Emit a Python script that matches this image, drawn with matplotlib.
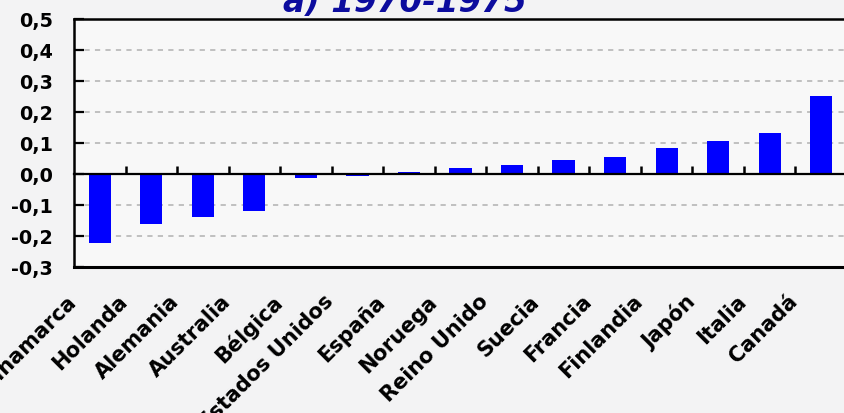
import matplotlib
matplotlib.use("Agg")
import matplotlib.pyplot as plt
import matplotlib.transforms as mtransforms
import numpy as np

paises = ["Dinamarca", "Holanda", "Alemania", "Australia", "Bélgica",
          "Estados Unidos", "España", "Noruega", "Reino Unido", "Suecia",
          "Francia", "Finlandia", "Japón", "Italia", "Canadá"]
valores = [-0.221, -0.159, -0.137, -0.117, -0.013, -0.006, 0.006, 0.021,
           0.029, 0.045, 0.054, 0.085, 0.107, 0.133, 0.253]
yticks = [-0.3, -0.2, -0.1, 0.0, 0.1, 0.2, 0.3, 0.4, 0.5]
titulo = "a) 1970-1975"

plt.rcParams['font.family'] = ['DejaVu Sans']
plt.rcParams['font.weight'] = 'bold'

fig = plt.figure(figsize=(8.44, 4.13), dpi=100, facecolor='#f3f3f4')
ax = fig.add_axes([74/844, (413-267.3)/413, (847-74)/844, (267.3-19)/413])
ax.set_facecolor('#f8f8f8')

x = np.arange(len(paises))
ax.bar(x, valores, width=0.43, color='#0000ff', zorder=3)

ax.set_xlim(-0.5, len(paises) - 0.5)
ax.set_ylim(-0.3, 0.5)
ax.set_yticks(yticks)
ax.set_yticklabels([("%.1f" % v).replace('.', ',') for v in yticks],
                   fontsize=13.8, fontweight='bold')
ax.yaxis.grid(True, color='#bcbcbc', linestyle=(0, (2.9, 2.9)), linewidth=1.3, zorder=1)
ax.tick_params(axis='y', direction='in', length=7, width=1.6, pad=15, colors='black')

# eje x en el cero, con marcas entre categorias
ax.spines['bottom'].set_position(('data', 0))
ax.spines['bottom'].set_linewidth(1.6)
ax.spines['bottom'].set_zorder(4)
ax.set_xticks(x[:-1] + 0.5)
ax.set_xticklabels([])
ax.tick_params(axis='x', direction='in', length=6, width=1.8)
ax.spines['left'].set_linewidth(1.8)
ax.spines['top'].set_linewidth(1.8)
ax.spines['right'].set_visible(False)
ax.axhline(-0.3, color='black', linewidth=2.2, clip_on=False, zorder=5)

trans = mtransforms.blended_transform_factory(ax.transData, ax.transAxes)
for i, p in enumerate(paises):
    ax.text(i - 0.66, -0.098, p, transform=trans, rotation=45,
            rotation_mode='anchor', ha='right', va='top',
            fontsize=15, fontweight='bold', color='black')

fig.text(405/844, 1 - 12/413, titulo, ha='center', va='baseline',
         fontsize=23.5, fontweight='bold', style='italic', color='#0c0c9e')

fig.savefig("out.png", dpi=100, facecolor=fig.get_facecolor())
